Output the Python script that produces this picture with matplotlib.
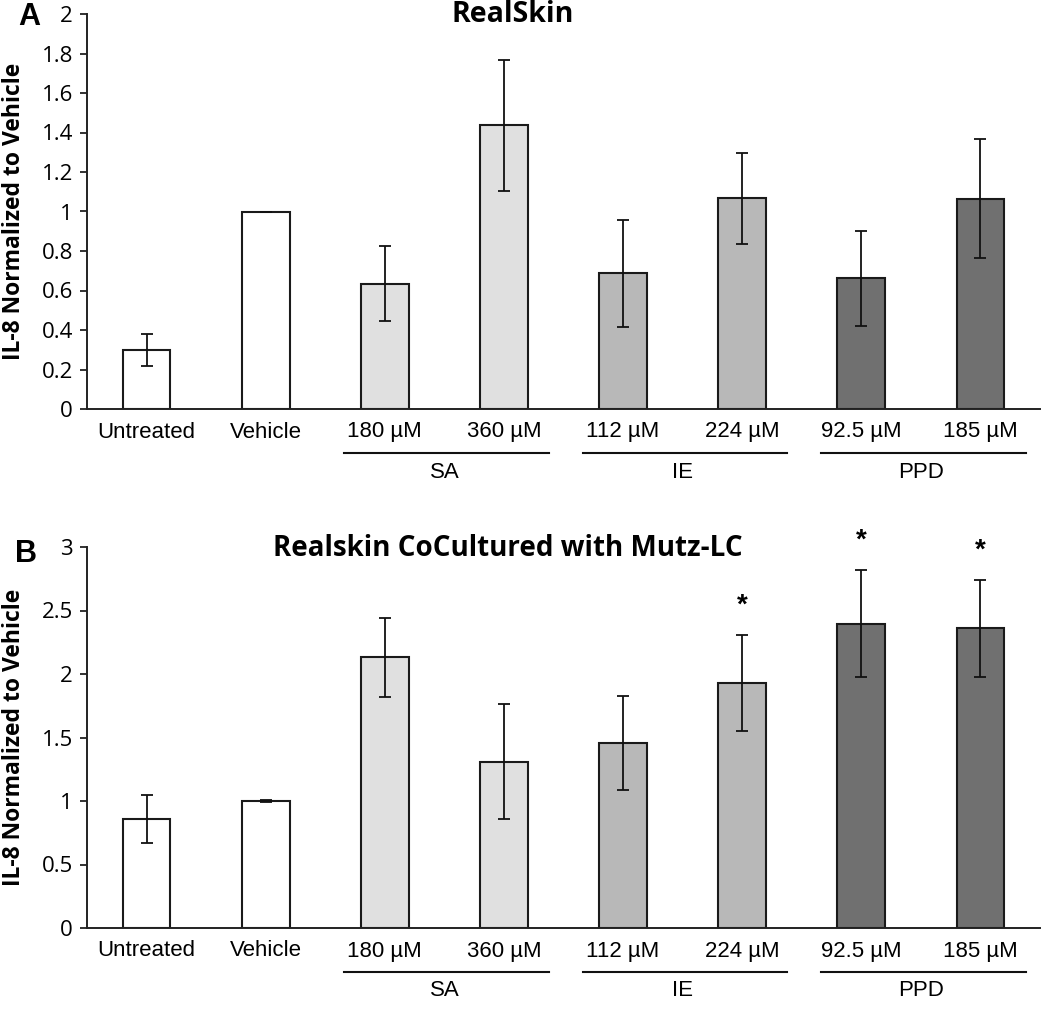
import matplotlib
matplotlib.use("Agg")
import matplotlib.pyplot as plt
from matplotlib.transforms import offset_copy
from matplotlib.ticker import FuncFormatter, MultipleLocator

# ---- data ----
categories = ["Untreated", "Vehicle", "180 µM", "360 µM", "112 µM", "224 µM", "92.5 µM", "185 µM"]
groups = ["SA", "IE", "PPD"]
group_members = [(2, 3), (4, 5), (6, 7)]

realskin_vals = [0.30, 1.00, 0.634, 1.436, 0.687, 1.067, 0.662, 1.065]
realskin_errs = [0.08, 0.0, 0.19, 0.33, 0.27, 0.23, 0.24, 0.30]

cocult_vals = [0.858, 1.00, 2.13, 1.31, 1.458, 1.93, 2.397, 2.36]
cocult_errs = [0.186, 0.01, 0.31, 0.455, 0.37, 0.375, 0.42, 0.38]
cocult_sig = [False, False, False, False, False, True, True, True]

bar_colors = ["#ffffff", "#ffffff", "#e0e0e0", "#e0e0e0", "#b8b8b8", "#b8b8b8", "#707070", "#707070"]

W, H = 1050, 1014
fig = plt.figure(figsize=(W / 100, H / 100), dpi=100)

tick_font = "Open Sans"
label_font = "Liberation Sans"


def fmt(v, pos):
    return "%g" % round(v, 2)


def draw_panel(rect, vals, errs, ymax, ystep, title, title_xy, title_size, letter, letter_xy, sig=None):
    ax = fig.add_axes(rect)
    x = list(range(len(categories)))
    ax.bar(x, vals, width=0.4, color=bar_colors, edgecolor="#1a1a1a", linewidth=1.5, zorder=2)
    ax.errorbar(x, vals, yerr=errs, fmt="none", ecolor="#111111", elinewidth=1.3,
                capsize=4, capthick=1.3, zorder=3)
    ax.set_xlim(-0.5, 7.5)
    ax.set_ylim(0, ymax)
    ax.yaxis.set_major_locator(MultipleLocator(ystep))
    ax.yaxis.set_major_formatter(FuncFormatter(fmt))
    for s in ["top", "right"]:
        ax.spines[s].set_visible(False)
    for s in ["left", "bottom"]:
        ax.spines[s].set_linewidth(1.4)
        ax.spines[s].set_color("#222222")
    ax.tick_params(axis="y", length=5, width=1.3, pad=5, labelsize=16, color="#222222")
    for t in ax.get_yticklabels():
        t.set_fontfamily(tick_font)
    ax.set_xticks(x)
    ax.set_xticklabels(categories, fontfamily=label_font, fontsize=16)
    ax.tick_params(axis="x", length=0, pad=9)
    ax.set_ylabel("IL-8 Normalized to Vehicle", fontfamily="Open Sans", fontweight="bold",
                  fontsize=16.5)
    ax.yaxis.set_label_coords(-(87 - 26) / (rect[2] * W), 0.5)

    trans = ax.get_xaxis_transform()
    line_tr = offset_copy(trans, fig=fig, y=-44, units="dots")
    grp_tr = offset_copy(trans, fig=fig, y=-63, units="dots")
    for g, (a, b) in zip(groups, group_members):
        ax.plot([a - 0.34, b + 0.38], [0, 0], color="#111111", lw=1.5,
                transform=line_tr, clip_on=False)
        ax.text((a + b) / 2, 0, g, transform=grp_tr, ha="center", va="center",
                fontfamily=label_font, fontsize=16)

    if sig is not None:
        for xi, (v, e, s) in enumerate(zip(vals, errs, sig)):
            if s:
                ax.annotate("*", (xi, v + e), xytext=(0, 21), textcoords="offset points",
                            ha="center", va="center", fontsize=20, fontweight="bold",
                            fontfamily=label_font, annotation_clip=False)

    fig.text(title_xy[0], title_xy[1], title, ha="center", va="center",
             fontfamily="Open Sans", fontweight="bold", fontsize=title_size)
    fig.text(letter_xy[0], letter_xy[1], letter, ha="center", va="center",
             fontfamily=label_font, fontweight="bold", fontsize=22)
    return ax


draw_panel([87 / W, 1 - 409 / H, (1040 - 87) / W, (409 - 14) / H],
           realskin_vals, realskin_errs, 2, 0.2, "RealSkin",
           (513 / W, 1 - 14 / H), 20.5, "A", (29 / W, 1 - 17 / H))

draw_panel([87 / W, 1 - 928 / H, (1040 - 87) / W, (928 - 547) / H],
           cocult_vals, cocult_errs, 3, 0.5, "Realskin CoCultured with Mutz-LC",
           (508 / W, 1 - 548 / H), 20, "B", (26 / W, 1 - 554 / H), sig=cocult_sig)

fig.savefig("out.png", dpi=100)
